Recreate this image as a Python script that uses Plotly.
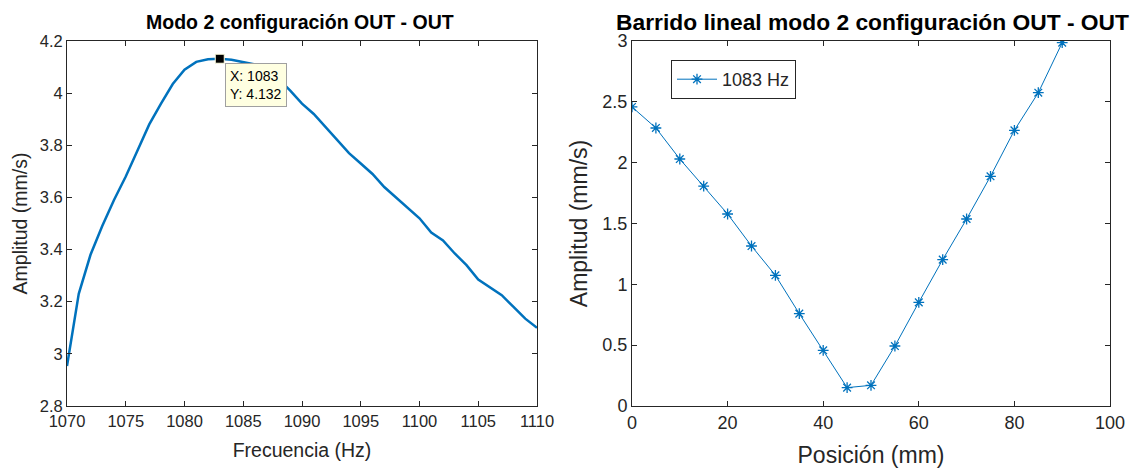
import plotly.graph_objects as go

# Left: frequency sweep
freq = list(range(1070, 1111))
amp_freq = [2.953, 3.23, 3.38, 3.49, 3.59, 3.68, 3.78, 3.88, 3.96, 4.035, 4.09, 4.12, 4.13, 4.132,
            4.128, 4.12, 4.11, 4.095, 4.055, 4.01, 3.96, 3.92, 3.87, 3.82, 3.77, 3.73, 3.69,
            3.64, 3.60, 3.56, 3.52, 3.465, 3.435, 3.385, 3.34, 3.285, 3.255, 3.225, 3.18, 3.135, 3.10]

# Right: linear sweep
pos = list(range(0, 95, 5))
amp_pos = [2.458, 2.285, 2.03, 1.808, 1.578, 1.315, 1.074, 0.759, 0.458, 0.151,
           0.170, 0.493, 0.852, 1.203, 1.537, 1.888, 2.266, 2.575, 2.986]

peak_x = [1083]
peak_y = [4.132]

BLUE = "#0072BD"
AX = "#262626"
FONT = "Liberation Sans, Arial, sans-serif"

fig = go.Figure()
fig.add_trace(go.Scatter(x=freq, y=amp_freq, mode="lines", line=dict(color=BLUE, width=2.5),
                         xaxis="x", yaxis="y", showlegend=False))
fig.add_trace(go.Scatter(x=peak_x, y=peak_y, mode="markers",
                         marker=dict(symbol="square", size=9, color="black",
                                     line=dict(color="#ffffe1", width=1)),
                         xaxis="x", yaxis="y", showlegend=False))
fig.add_trace(go.Scatter(x=pos, y=amp_pos, mode="lines+markers", name="1083 Hz",
                         line=dict(color=BLUE, width=1),
                         marker=dict(symbol="asterisk-open", size=9, color=BLUE,
                                     line=dict(color=BLUE, width=1.3)),
                         xaxis="x2", yaxis="y2", showlegend=True))


def ax(size, **kw):
    d = dict(showline=True, mirror="ticks", linecolor=AX, linewidth=1, ticks="inside",
             ticklen=5, tickcolor=AX, showgrid=False, zeroline=False, automargin=False,
             tickfont=dict(family=FONT, color=AX, size=size))
    d.update(kw)
    return d


W, H = 1142, 468
fig.update_layout(
    width=W, height=H, margin=dict(l=0, r=0, t=0, b=0, autoexpand=False),
    paper_bgcolor="white", plot_bgcolor="white",
    font=dict(family=FONT, color=AX),
    xaxis=ax(16.5, domain=[67 / W, 537 / W], range=[1070, 1110], dtick=5, anchor="y",
             title=dict(text="Frecuencia (Hz)", font=dict(size=19.5), standoff=14)),
    yaxis=ax(16.5, domain=[1 - 406 / H, 1 - 41 / H], range=[2.8, 4.2], dtick=0.2, anchor="x",
             title=dict(text="Amplitud (mm/s)", font=dict(size=19.5), standoff=6)),
    xaxis2=ax(18, domain=[632 / W, 1110 / W], range=[0, 100], dtick=20, anchor="y2",
              title=dict(text="Posición (mm)", font=dict(size=23), standoff=18)),
    yaxis2=ax(18, domain=[1 - 406 / H, 1 - 41 / H], range=[0, 3], dtick=0.5, anchor="x2",
              title=dict(text="Amplitud (mm/s)", font=dict(size=23), standoff=8)),
    legend=dict(x=671 / W, y=1 - 60 / H, xref="paper", yref="paper", xanchor="left", yanchor="top",
                bordercolor=AX, borderwidth=1, bgcolor="white", itemwidth=40,
                font=dict(family=FONT, size=18, color=AX)),
    showlegend=True,
)

fig.add_annotation(x=300 / W, y=1 - 22 / H, xref="paper", yref="paper",
                   text="<b>Modo 2 configuración OUT - OUT</b>", showarrow=False,
                   font=dict(family=FONT, size=19.5, color="black"),
                   xanchor="center", yanchor="middle")
fig.add_annotation(x=872 / W, y=1 - 22 / H, xref="paper", yref="paper",
                   text="<b>Barrido lineal modo 2 configuración OUT - OUT</b>", showarrow=False,
                   font=dict(family=FONT, size=22.8, color="black"),
                   xanchor="center", yanchor="middle")
fig.add_annotation(x=peak_x[0], y=peak_y[0], xref="x", yref="y",
                   text=f"X: {peak_x[0]}<br>Y: {peak_y[0]}", showarrow=False,
                   xanchor="left", yanchor="top", xshift=5, yshift=-4, align="left",
                   bgcolor="#ffffe1", bordercolor="#a0a0a0", borderwidth=1, borderpad=4,
                   font=dict(family=FONT, size=14, color="black"))

fig.write_html("out.html", config={"displayModeBar": False},
               post_script="document.body.style.margin='0';")
